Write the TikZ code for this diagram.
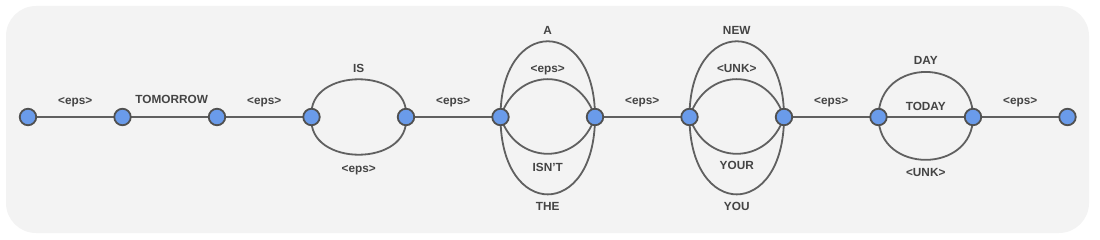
\documentclass[tikz,border=0pt]{standalone}
\usepackage{fontspec}
\setmainfont{Liberation Sans}
\pgfdeclarelayer{bg}
\pgfdeclarelayer{edges}
\pgfsetlayers{bg,edges,main}
\definecolor{bgcol}{HTML}{F3F3F3}
\definecolor{nodefill}{HTML}{6A9BEA}
\definecolor{nodeline}{HTML}{505050}
\definecolor{edgecol}{HTML}{606060}
\definecolor{txtcol}{HTML}{444444}
\tikzset{
  statenode/.style={circle, draw=nodeline, fill=nodefill, line width=1.8pt, minimum size=16.5pt, inner sep=0pt},
  arc/.style={draw=edgecol, line width=1.8pt},
  lbl/.style={font=\fontsize{11.8}{12}\selectfont\bfseries, text=txtcol, inner sep=0pt, text height=8.5pt, text depth=0pt}
}
\begin{document}
\begin{tikzpicture}[x=1pt,y=1pt]
\useasboundingbox (0,0) rectangle (1100,239);
\begin{pgfonlayer}{bg}
\fill[bgcol, rounded corners=30pt] (6,6) rectangle (1089,233);
\end{pgfonlayer}
\foreach \i in {0,...,11} {
  \node[statenode] (n\i) at ({28+94.5*\i},122) {};
}
\begin{pgfonlayer}{edges}
% straight edges
\path[arc] (n0.center) -- node[lbl, yshift=17pt] {<eps>} (n1.center);
\path[arc] (n1.center) -- node[lbl, yshift=18pt, xshift=2pt] {TOMORROW} (n2.center);
\path[arc] (n2.center) -- node[lbl, yshift=17pt] {<eps>} (n3.center);
\path[arc] (n4.center) -- node[lbl, yshift=17pt] {<eps>} (n5.center);
\path[arc] (n6.center) -- node[lbl, yshift=17pt] {<eps>} (n7.center);
\path[arc] (n8.center) -- node[lbl, yshift=17pt] {<eps>} (n9.center);
\path[arc] (n10.center) -- node[lbl, yshift=17pt] {<eps>} (n11.center);
% 3-4
\path[arc] (n3.center) to[out=95,in=85,looseness=1.37] node[lbl, yshift=11pt] {IS} (n4.center);
\path[arc] (n3.center) to[out=-95,in=-85,looseness=1.37] node[lbl, yshift=-14pt] {<eps>} (n4.center);
% 5-6
\path[arc] (n5.center) to[out=90,in=90,looseness=2.74] node[lbl, yshift=11pt] {A} (n6.center);
\path[arc] (n5.center) to[out=72,in=108,looseness=1.44] node[lbl, yshift=11pt] {<eps>} (n6.center);
\path[arc] (n5.center) to[out=-72,in=-108,looseness=1.40] node[lbl, yshift=-13pt] {ISN'T} (n6.center);
\path[arc] (n5.center) to[out=-90,in=-90,looseness=2.8] node[lbl, yshift=-12pt] {THE} (n6.center);
% 7-8
\path[arc] (n7.center) to[out=90,in=90,looseness=2.74] node[lbl, yshift=11pt] {NEW} (n8.center);
\path[arc] (n7.center) to[out=72,in=108,looseness=1.44] node[lbl, yshift=11pt] {<UNK>} (n8.center);
\path[arc] (n7.center) to[out=-72,in=-108,looseness=1.40] node[lbl, yshift=-11pt] {YOUR} (n8.center);
\path[arc] (n7.center) to[out=-90,in=-90,looseness=2.8] node[lbl, yshift=-12pt] {YOU} (n8.center);
% 9-10
\path[arc] (n9.center) to[out=90,in=90,looseness=1.63] node[lbl, yshift=11.5pt] {DAY} (n10.center);
\path[arc] (n9.center) -- node[lbl, yshift=10.5pt] {TODAY} (n10.center);
\path[arc] (n9.center) to[out=-90,in=-90,looseness=1.55] node[lbl, yshift=-12pt] {<UNK>} (n10.center);
\end{pgfonlayer}
\end{tikzpicture}
\end{document}
